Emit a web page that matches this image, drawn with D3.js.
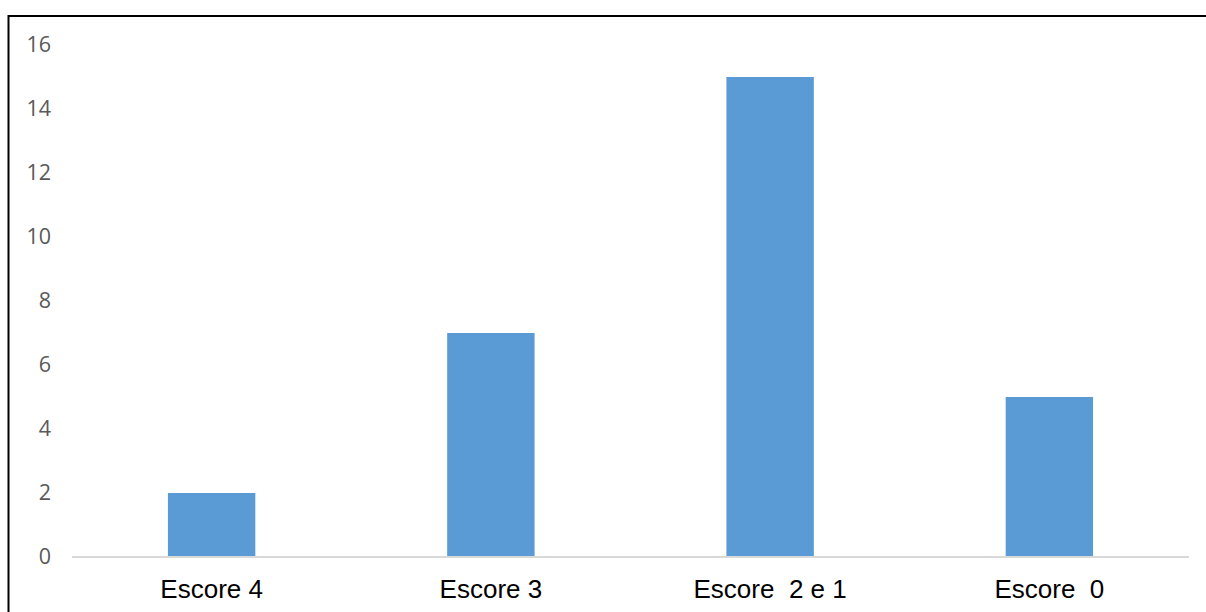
<!DOCTYPE html>
<html>
<head>
<meta charset="utf-8">
<script src="https://cdn.jsdelivr.net/npm/d3@7"></script>
<style>
html,body{margin:0;padding:0;background:#fff;}
svg{display:block;}
</style>
</head>
<body>
<svg id="chart" width="1206" height="612"></svg>
<script>
const categories = ["Escore 4", "Escore 3", "Escore  2 e 1", "Escore  0"];
const values = [2, 7, 15, 5];
const yTicks = [0, 2, 4, 6, 8, 10, 12, 14, 16];

const svg = d3.select("#chart");
const W = 1206, H = 612;
const plot = {left: 72, right: 1189, top: 45, bottom: 557};

// outer frame (top and left edges visible)
svg.append("line").attr("x1", 8.5).attr("x2", W).attr("y1", 16).attr("y2", 16)
  .attr("stroke", "#000").attr("stroke-width", 2);
svg.append("line").attr("x1", 8.5).attr("x2", 8.5).attr("y1", 15).attr("y2", H)
  .attr("stroke", "#000").attr("stroke-width", 2);

const x = d3.scaleBand().domain(categories).range([plot.left, plot.right]).paddingInner(0.687).paddingOuter(0.3435);
const y = d3.scaleLinear().domain([0, 16]).range([plot.bottom, plot.top]);

// bars
svg.append("g").selectAll("rect").data(values).join("rect")
  .attr("x", (d, i) => x(categories[i]))
  .attr("width", x.bandwidth())
  .attr("y", d => y(d))
  .attr("height", d => y(0) - y(d))
  .attr("fill", "#5B9BD5");

// y axis labels
const yAxis = d3.axisLeft(y).tickValues(yTicks).tickSize(0).tickPadding(0).tickFormat(d3.format("d"));
const gy = svg.append("g").attr("transform", `translate(51,0)`).call(yAxis);
gy.select(".domain").remove();
gy.selectAll("text").attr("fill", "#595959").style("font-family", "'Open Sans', sans-serif").style("font-size", "21.5px");

// x axis
const xAxis = d3.axisBottom(x).tickSize(0).tickPadding(0);
const gx = svg.append("g").attr("transform", `translate(0,${plot.bottom})`).call(xAxis);
gx.select(".domain").attr("stroke", "#D9D9D9").attr("stroke-width", 2).attr("d", `M${plot.left},0H${plot.right}`);
gx.selectAll("text").attr("fill", "#000").attr("dy", 0).attr("y", 41)
  .style("font-family", "'Liberation Sans', Arial, sans-serif").style("font-size", "26px")
  .style("white-space", "pre").attr("xml:space", "preserve");
</script>
</body>
</html>
